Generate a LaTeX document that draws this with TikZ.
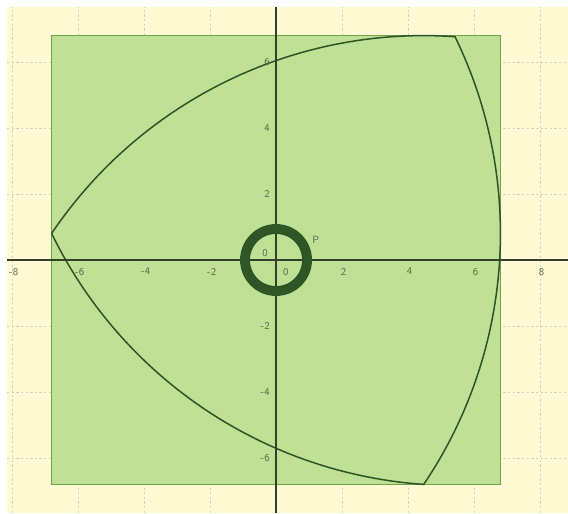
\documentclass[tikz,border=0pt]{standalone}
\usepackage{tikz}
\usetikzlibrary{%
	calc,%
	positioning,%
}
\definecolor{cyellow}{RGB}{255, 250, 212}
\definecolor{cgrid}{RGB}{210, 210, 190}
\definecolor{caxis}{RGB}{50, 65, 40}
\definecolor{cgreen}{RGB}{110, 165, 75}
\definecolor{cgreenlight}{RGB}{192, 224, 150}
\definecolor{cgreendark}{RGB}{45, 85, 38}
\tikzset{
	bgarea/.style={%
			fill=cyellow,%
			draw=none},%
	gridline/.style={%
			draw=cgrid,%
			line width=.6pt,%
			dash pattern=on 2pt off 2pt},%
	axisline/.style={%
			draw=caxis,%
			line width=1pt},%
	squarearea/.style={%
			fill=cgreenlight,%
			draw=cgreen,%
			line width=1.2pt},%
	reuleaux/.style={%
			draw=cgreendark,%
			line width=1.3pt},%
	ring/.style={%
			draw=cgreendark,%
			line width=8.5pt},%
	ticklabel/.style={%
			font={\sffamily\small},%
			text=caxis!80,%
			inner sep=1pt},%
	pointnode/.style={%
			circle,%
			fill=cgreendark,%
			inner sep=0,%
			minimum size=4.5pt},%
}

\begin{document}
\begin{tikzpicture}
	\useasboundingbox (-8.364,-7.667) rectangle (8.848,7.879);
	\fill[bgarea] (-8.152,-7.667) rectangle (8.848,7.667);

	% grid
	\foreach \x in {-8,-6,...,8} {
		\draw[gridline] (\x,-7.667) -- (\x,7.667);
	}
	\foreach \y in {-6,-4,...,6} {
		\draw[gridline] (-8.152,\y) -- (8.848,\y);
	}

	% square and curve
	\draw[squarearea] (-6.8,-6.8) rectangle (6.8,6.8);
	\coordinate (rc) at (1.033,0.257);
	\coordinate (vl) at ($(rc)+(176:7.852)$);
	\draw[reuleaux] (vl) arc[start angle=146, end angle=86, radius=13.6]
		arc[start angle=26, end angle=-34, radius=13.6]
		arc[start angle=-94, end angle=-154, radius=13.6];

	% axes
	\coordinate (xmin) at (-8.152,0);
	\coordinate (xmax) at (8.848,0);
	\coordinate (ymin) at (0,-7.667);
	\coordinate (ymax) at (0,7.667);
	\draw[axisline] (xmin) -- (xmax);
	\draw[axisline] (ymin) -- (ymax);
	\foreach \x in {-8,-6,-4,-2,2,4,6,8} {
		\node[ticklabel, anchor=north] (xl\x) at (\x+0.05,-0.2) {\x};
	}
	\foreach \y in {-6,-4,-2,2,4,6} {
		\node[ticklabel, anchor=east] (yl\y) at (-0.15,\y) {\y};
	}
	\node[ticklabel] (origy) at (-0.33,0.22) {0};
	\node[ticklabel] (origx) at (0.3,-0.36) {0};

	% circle and point
	\coordinate (o) at (0,0);
	\draw[ring] (o) circle[radius=0.94];
	\node[pointnode] (p) at (12:0.97) {};
	\node[ticklabel, above right=0.2cm and 0.05cm of p] (plabel) {P};
\end{tikzpicture}
\end{document}
